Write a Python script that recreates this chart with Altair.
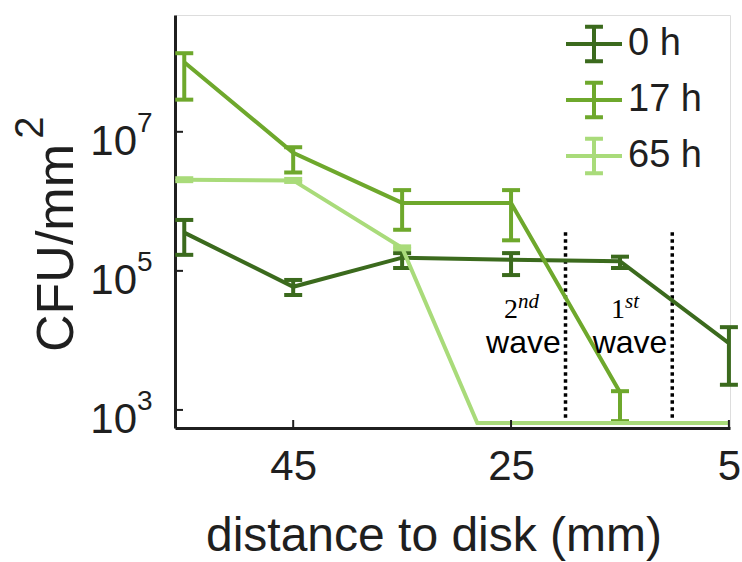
import altair as alt
import pandas as pd

# ---------------- data ----------------
series_names = ["0 h", "17 h", "65 h"]
series_colors = ["#3b6a1d", "#6ea82c", "#a9db7a"]

d_0h = [55, 45, 35, 25, 15, 5]
cfu_0h = [3.55e5, 5.9e4, 1.55e5, 1.45e5, 1.38e5, 9.1e3]
lo_0h = [1.7e5, 4.5e4, 1.1e5, 8.7e4, 1.1e5, 2.3e3]
hi_0h = [5.4e5, 7.4e4, 1.8e5, 1.8e5, 1.6e5, 1.55e4]

d_17h = [55, 45, 35, 25, 15]
cfu_17h = [1.0e8, 5.0e6, 9.5e5, 9.5e5, 1.8e3]
lo_17h = [2.9e7, 2.6e6, 3.9e5, 2.75e5, 690]
hi_17h = [1.35e8, 6.0e6, 1.45e6, 1.45e6, 1.86e3]

d_65h = [55, 45, 35, 28.1, 5]
cfu_65h = [2.05e6, 2.0e6, 2.15e5, 650, 650]
lo_65h = [1.95e6, 1.9e6, 2.05e5, 650, 650]
hi_65h = [2.15e6, 2.1e6, 2.25e5, 650, 650]

x_tick_values = [45, 25, 5]
y_tick_exponents = [3, 5, 7]

wave_lines_x = [20, 10.2]
wave_top = 3.6e5

ann_base = ["2", "1"]
ann_sup = ["nd", "st"]
ann_split_x = [24.36, 14.54]
ann_y = 2.1e4
wave_label_x = [23.86, 14.08]
wave_label_y = 6.6e3

# ---------------- scales / encodings ----------------
Y_MIN, Y_MAX = 10 ** 2.74, 10 ** 8.68
FONT = "Liberation Sans"
INK = "#1f1f1f"

x_scale = alt.Scale(domain=[4.9, 55.85], reverse=True, nice=False, zero=False)
y_scale = alt.Scale(type="log", domain=[Y_MIN, Y_MAX], nice=False)
color_scale = alt.Scale(domain=series_names, range=series_colors)

x_axis = alt.Axis(
    title="distance to disk (mm)", values=x_tick_values, format="d",
    labelFontSize=42, labelFont=FONT, labelColor=INK, labelPadding=18,
    labelBaseline="top", ticks=False, tickSize=0, grid=False,
    domainWidth=3, domainColor=INK,
    titleFontSize=48, titleFont=FONT, titleColor=INK, titleFontWeight="normal",
    titleX=258.5, titleY=122, titleBaseline="alphabetic", titleAlign="center",
)
y_axis = alt.Axis(
    title="CFU/mm", values=[10 ** e for e in y_tick_exponents],
    labels=False, ticks=False, tickSize=0, grid=False,
    domainWidth=3, domainColor=INK,
    titleFontSize=52, titleFont=FONT, titleColor=INK, titleFontWeight="normal",
    titleAngle=270, titleX=-103, titleY=232.5, titleBaseline="alphabetic",
    titleAlign="center",
)

legend = alt.Legend(
    title=None, orient="none", legendX=389, legendY=-1, padding=0,
    symbolType="M-1,0H1M0,-0.62V0.62M-0.32,-0.62H0.32M-0.32,0.62H0.32",
    symbolSize=3136, symbolStrokeWidth=4, symbolOpacity=1,
    labelFontSize=38, labelFont=FONT,
    labelColor=INK, labelOffset=4, rowPadding=-9,
)


def X(field):
    return alt.X(f"{field}:Q", scale=x_scale, axis=x_axis, title="distance to disk (mm)")


def Y(field):
    return alt.Y(f"{field}:Q", scale=y_scale, axis=y_axis, title="CFU/mm")


def C():
    return alt.Color("series:N", scale=color_scale, legend=legend)


layers = []

# dotted wave boundaries
waves_df = pd.DataFrame({"d": wave_lines_x, "top": wave_top, "bottom": Y_MIN})
layers.append(
    alt.Chart(waves_df).mark_rule(color="black", strokeWidth=3.5, strokeDash=[3.5, 3.5])
    .encode(x=X("d"), y=Y("top"), y2="bottom")
)

for name, d, v, lo, hi in [
    ("0 h", d_0h, cfu_0h, lo_0h, hi_0h),
    ("17 h", d_17h, cfu_17h, lo_17h, hi_17h),
    ("65 h", d_65h, cfu_65h, lo_65h, hi_65h),
]:
    df = pd.DataFrame({"series": name, "d": d, "v": v, "lo": lo, "hi": hi})
    err = df[df["hi"] > df["lo"]]
    layers.append(
        alt.Chart(df).mark_line(strokeWidth=4, clip=True, opacity=1)
        .encode(x=X("d"), y=Y("v"), color=C())
    )
    layers.append(
        alt.Chart(err).mark_rule(strokeWidth=4, opacity=1)
        .encode(x=X("d"), y=Y("lo"), y2="hi", color=C())
    )
    for f in ["lo", "hi"]:
        layers.append(
            alt.Chart(err).mark_tick(orient="horizontal", size=18, thickness=4, opacity=1)
            .encode(x=X("d"), y=Y(f), color=C())
        )

# inward axis ticks
xt_df = pd.DataFrame({"d": x_tick_values})
layers.append(
    alt.Chart(xt_df).mark_tick(orient="vertical", size=8, thickness=2, color=INK, opacity=1)
    .encode(x=X("d"), y=alt.value(409))
)
yt_df = pd.DataFrame({"val": [10 ** e for e in y_tick_exponents],
                      "base": "10", "exp": [str(e) for e in y_tick_exponents]})
layers.append(
    alt.Chart(yt_df).mark_tick(orient="horizontal", size=8, thickness=2, color=INK, opacity=1)
    .encode(x=alt.value(4), y=Y("val"))
)
# y tick labels 10^k
layers.append(
    alt.Chart(yt_df).mark_text(align="right", baseline="alphabetic", dx=-38, dy=23,
                               fontSize=42, font=FONT, color=INK)
    .encode(x=alt.value(0), y=Y("val"), text="base:N")
)
layers.append(
    alt.Chart(yt_df).mark_text(align="left", baseline="alphabetic", dx=-38, dy=0,
                               fontSize=28, font=FONT, color=INK)
    .encode(x=alt.value(0), y=Y("val"), text="exp:N")
)
# superscript 2 of the y title
sup_df = pd.DataFrame({"t": ["2"]})
layers.append(
    alt.Chart(sup_df).mark_text(angle=270, align="center", baseline="alphabetic",
                                fontSize=40, font=FONT, color=INK)
    .encode(x=alt.value(-132), y=alt.value(112.5), text="t:N")
)

# wave annotations
ann_df = pd.DataFrame({"d": ann_split_x, "y": ann_y, "base": ann_base, "sup": ann_sup})
layers.append(
    alt.Chart(ann_df).mark_text(align="right", baseline="alphabetic", fontSize=28,
                                font="Liberation Serif", color="black")
    .encode(x=X("d"), y=Y("y"), text="base:N")
)
layers.append(
    alt.Chart(ann_df).mark_text(align="left", baseline="alphabetic", dy=-10, fontSize=21,
                                font="Liberation Serif", fontStyle="italic", color="black")
    .encode(x=X("d"), y=Y("y"), text="sup:N")
)
wave_df = pd.DataFrame({"d": wave_label_x, "y": wave_label_y, "t": "wave"})
layers.append(
    alt.Chart(wave_df).mark_text(align="center", baseline="alphabetic", fontSize=32,
                                 font=FONT, color="black")
    .encode(x=X("d"), y=Y("y"), text="t:N")
)

chart = (
    alt.layer(*layers)
    .properties(width=555, height=413, autosize="none",
                padding={"left": 175, "top": 15, "right": 12, "bottom": 134})
    .configure_view(stroke=None)
    .configure(background="white")
)

chart.save("out.html", embed_options={"renderer": "svg", "actions": False})
